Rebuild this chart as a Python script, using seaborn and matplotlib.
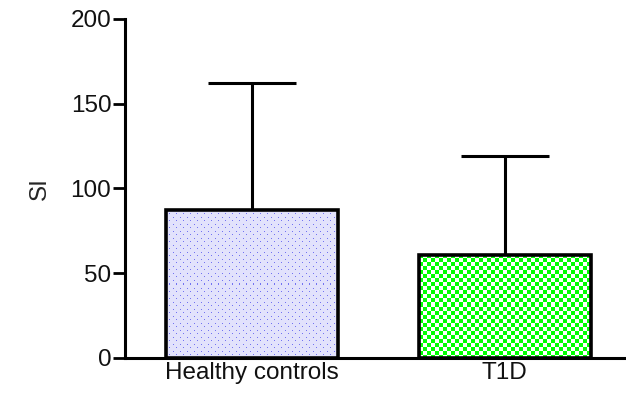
import numpy as np
import pandas as pd
import matplotlib
matplotlib.use("Agg")
import matplotlib.pyplot as plt
import seaborn as sns

# Stimulation index, mean and SD per group
groups = ["Healthy controls", "T1D"]
means = [87, 61]
sds = [75, 58]

sns.set_theme(style="ticks")
plt.rcParams["font.family"] = ["Liberation Sans", "DejaVu Sans"]

fig = plt.figure(figsize=(6.26, 3.95), dpi=100)
ax = fig.add_axes([0.2, 0.094, 0.80, 0.858])

df = pd.DataFrame({"group": groups, "SI": means})
sns.barplot(data=df, x="group", y="SI", ax=ax, width=0.68,
            color="white", errorbar=None, zorder=2)

ax.errorbar(x=np.arange(len(groups)), y=means, yerr=[np.zeros(len(sds)), sds],
            fmt="none", ecolor="black", elinewidth=2.2, capsize=32,
            capthick=2.2, zorder=1)

ax.set_ylim(0, 200)
ax.set_xlim(-0.5, 1.48)
ax.set_yticks([0, 50, 100, 150, 200])
ax.set_xlabel("")
ax.set_ylabel("SI", fontsize=17.5, labelpad=14)
ax.tick_params(axis="y", length=9, width=2.0, labelsize=17.5, pad=1, color="black",
               labelcolor="#111111")
ax.tick_params(axis="x", length=0, labelsize=17.5, pad=3, labelcolor="#111111")
for s in ["top", "right"]:
    ax.spines[s].set_visible(False)
for s in ["left", "bottom"]:
    ax.spines[s].set_linewidth(2.2)
    ax.spines[s].set_color("black")

fig.canvas.draw()


def dots_texture(h, w):
    tex = np.ones((h, w, 3)) * np.array([0.89, 0.89, 0.99])
    yy, xx = np.mgrid[0:h, 0:w]
    mask = ((yy % 7 == 3) & (xx % 7 == 3)) | ((yy % 7 == 0) & (xx % 7 == 0))
    tex[mask] = [0.45, 0.45, 0.95]
    return tex


def checker_texture(h, w, cell=4):
    yy, xx = np.mgrid[0:h, 0:w]
    on = ((yy // cell) + (xx // cell)) % 2 == 0
    tex = np.ones((h, w, 3))
    tex[on] = [0.0, 1.0, 0.0]
    return tex


makers = [dots_texture, checker_texture]
for patch, make in zip(ax.patches, makers):
    bb = patch.get_window_extent()
    h, w = int(round(bb.height)), int(round(bb.width))
    x0, y0 = patch.get_x(), patch.get_y()
    extent = [x0, x0 + patch.get_width(), y0, y0 + patch.get_height()]
    im = ax.imshow(make(h, w), extent=extent, aspect="auto",
                   interpolation="nearest", zorder=2, origin="upper")
    im.set_clip_path(patch)
    patch.set_facecolor("none")
    patch.set_edgecolor("black")
    patch.set_linewidth(2.6)
    patch.set_zorder(3)

ax.set_xlim(-0.5, 1.48)
ax.set_ylim(0, 200)
fig.savefig("out.png", dpi=100)
